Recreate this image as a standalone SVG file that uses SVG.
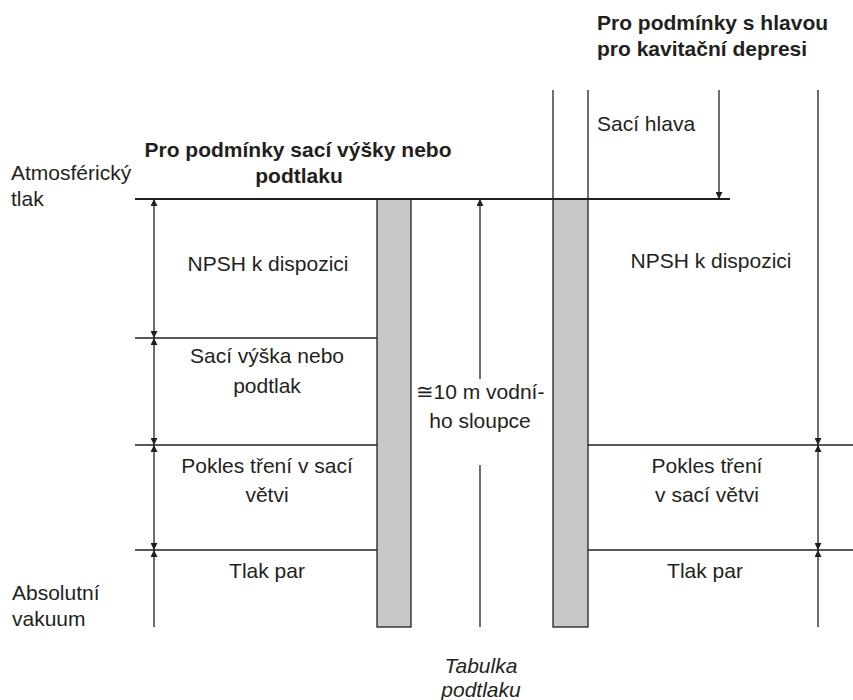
<svg xmlns="http://www.w3.org/2000/svg" width="853" height="700" viewBox="0 0 853 700">
  <style>
    text { font-family: "Liberation Sans", Arial, sans-serif; font-size: 21px; fill: #231f20; }
    .b { font-weight: bold; }
    .i { font-style: italic; }
    .c { text-anchor: middle; }
    .ln { stroke: #231f20; stroke-width: 1.3; fill: none; }
    .thick { stroke: #231f20; stroke-width: 2.2; fill: none; }
    .col { fill: #c7c8ca; stroke: #231f20; stroke-width: 1.3; }
    .arr { stroke: #231f20; stroke-width: 1.3; fill: none; }
    .a2 { marker-start: url(#ah); marker-end: url(#ah); }
    .a1 { marker-end: url(#ah); }
  </style>
  <defs>
    <marker id="ah" viewBox="0 0 10 10" refX="10" refY="5" markerWidth="9" markerHeight="7" markerUnits="userSpaceOnUse" orient="auto-start-reverse">
      <path d="M0,0 L10,5 L0,10 z" fill="#231f20"/>
    </marker>
  </defs>
  <rect width="853" height="700" fill="#ffffff"/>

  <g id="columns">
    <rect class="col" x="377" y="199" width="34" height="428"/>
    <rect class="col" x="553" y="199" width="35" height="428"/>
    <line class="ln" x1="553" y1="90" x2="553" y2="199"/>
    <line class="ln" x1="588" y1="90" x2="588" y2="199"/>
  </g>

  <g id="levels">
    <line class="thick" x1="135" y1="199" x2="730" y2="199"/>
    <line class="ln" x1="135" y1="338" x2="377" y2="338"/>
    <line class="ln" x1="135" y1="445" x2="377" y2="445"/>
    <line class="ln" x1="135" y1="550" x2="377" y2="550"/>
    <line class="ln" x1="588" y1="445" x2="853" y2="445"/>
    <line class="ln" x1="588" y1="550" x2="853" y2="550"/>
  </g>

  <g id="connectors">
    <line class="arr a2" x1="154" y1="199" x2="154" y2="338"/>
    <line class="arr a2" x1="154" y1="338" x2="154" y2="445"/>
    <line class="arr a2" x1="154" y1="445" x2="154" y2="550"/>
    <line class="arr a1" x1="154" y1="627" x2="154" y2="550"/>
    <line class="arr a1" x1="480" y1="379" x2="480" y2="199"/>
    <line class="arr" x1="480" y1="465" x2="480" y2="627"/>
    <line class="arr a1" x1="719" y1="90" x2="719" y2="199"/>
    <line class="arr a1" x1="818" y1="90" x2="818" y2="445"/>
    <line class="arr a2" x1="818" y1="445" x2="818" y2="550"/>
    <line class="arr a1" x1="818" y1="627" x2="818" y2="550"/>
  </g>

  <g id="title-left">
    <text class="b c" x="298" y="157">Pro podmínky sací výšky nebo</text>
    <text class="b c" x="299" y="183">podtlaku</text>
  </g>
  <g id="title-right">
    <text class="b" x="597" y="30">Pro podmínky s hlavou</text>
    <text class="b" x="597" y="56">pro kavitační depresi</text>
  </g>
  <g id="atm">
    <text x="11" y="180">Atmosférický</text>
    <text x="11" y="206">tlak</text>
  </g>
  <g id="vac">
    <text x="12" y="600">Absolutní</text>
    <text x="12" y="626">vakuum</text>
  </g>
  <g id="npsh-left">
    <text class="c" x="268" y="271">NPSH k dispozici</text>
  </g>
  <g id="lift">
    <text class="c" x="267" y="363">Sací výška nebo</text>
    <text class="c" x="267" y="393">podtlak</text>
  </g>
  <g id="friction-left">
    <text class="c" x="267" y="473">Pokles tření v sací</text>
    <text class="c" x="267" y="502">větvi</text>
  </g>
  <g id="vapor-left">
    <text class="c" x="267" y="578">Tlak par</text>
  </g>
  <g id="water">
    <text class="c" x="480" y="399">≅10 m vodní-</text>
    <text class="c" x="480" y="428">ho sloupce</text>
  </g>
  <g id="head">
    <text x="597" y="131">Sací hlava</text>
  </g>
  <g id="npsh-right">
    <text class="c" x="711" y="268">NPSH k dispozici</text>
  </g>
  <g id="friction-right">
    <text class="c" x="707" y="473">Pokles tření</text>
    <text class="c" x="707" y="502">v sací větvi</text>
  </g>
  <g id="vapor-right">
    <text class="c" x="705" y="578">Tlak par</text>
  </g>
  <g id="table">
    <text class="i c" x="481" y="673">Tabulka</text>
    <text class="i c" x="481" y="697">podtlaku</text>
  </g>
</svg>
